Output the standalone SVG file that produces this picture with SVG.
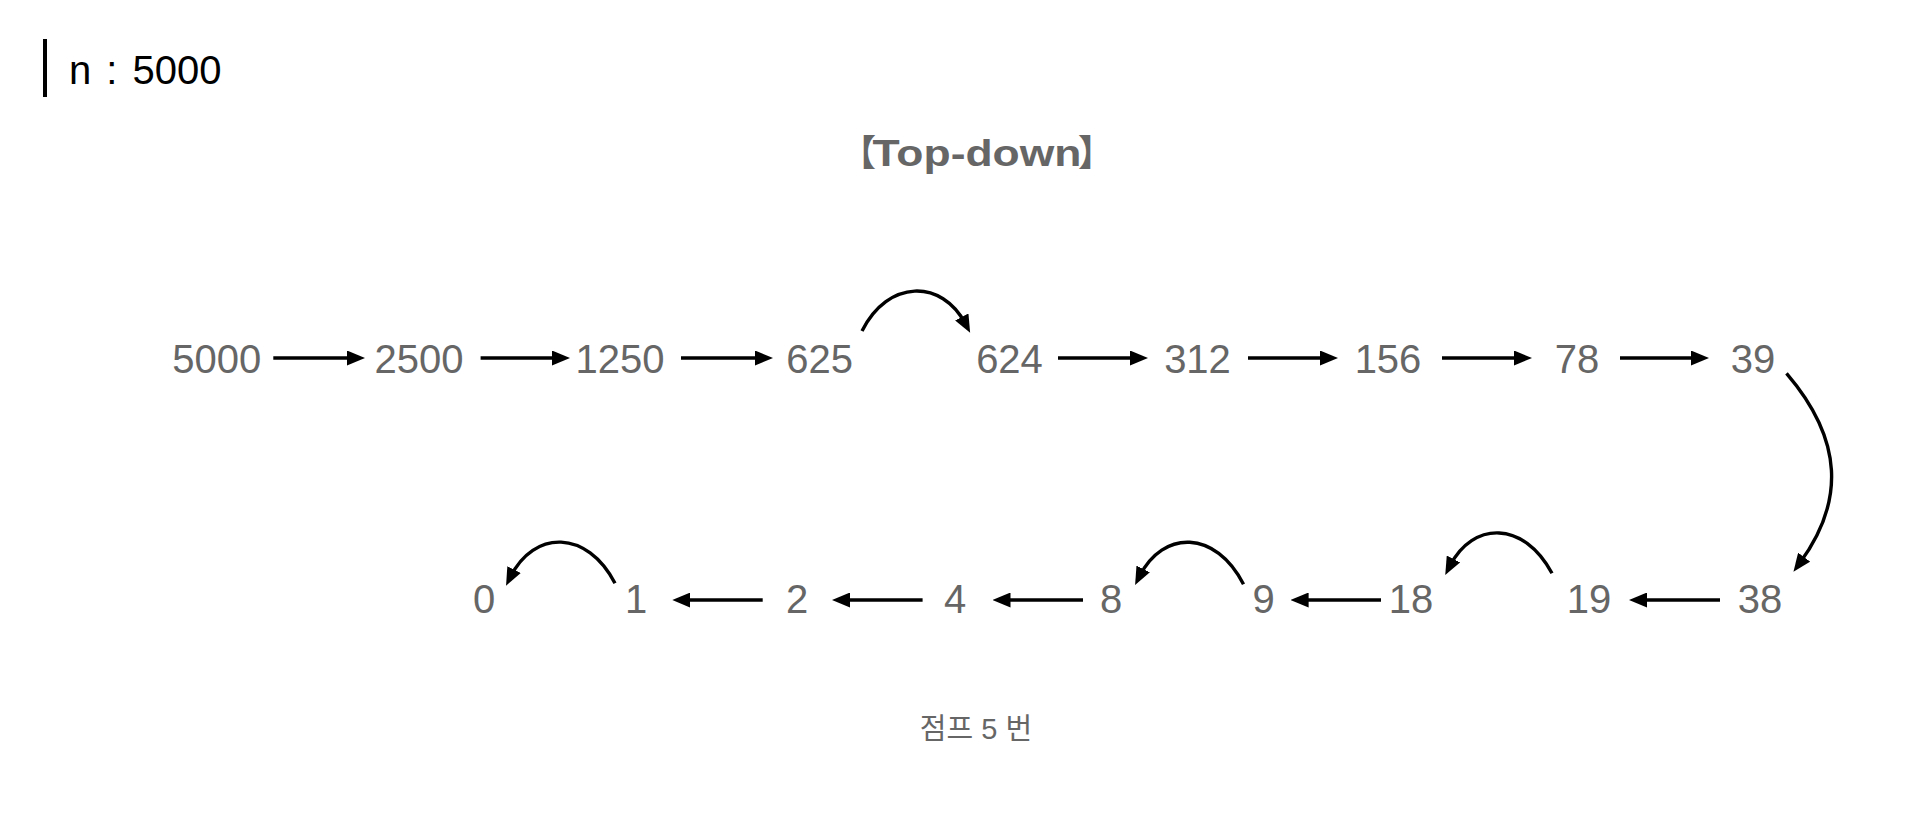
<svg xmlns="http://www.w3.org/2000/svg" width="1918" height="818" viewBox="0 0 1918 818">
<style>
.node{font-family:"Liberation Sans",Arial,sans-serif;font-size:40px;fill:#666666;text-anchor:middle}
.edge{fill:none;stroke:#000;stroke-width:3.4;marker-end:url(#ah)}
.title{font-family:"Liberation Sans","Noto Sans CJK KR",sans-serif;font-size:36px;font-weight:bold;fill:#666666}
.hdr{font-family:"Liberation Sans",Arial,sans-serif;font-size:40px;fill:#000;word-spacing:4px}
.lbl{font-family:"Liberation Sans","Noto Sans CJK KR",sans-serif;font-size:29px;fill:#666666;text-anchor:middle}
</style>
<defs>
<marker id="ah" markerWidth="18" markerHeight="15" refX="8" refY="7.5" orient="auto" markerUnits="userSpaceOnUse" viewBox="0 0 18 15">
<path d="M0,0 L18,7.5 L0,15 z" fill="#000"/>
</marker>
</defs>
<rect width="1918" height="818" fill="#fff"/>
<g id="header">
<rect x="43" y="39" width="4" height="58" fill="#000"/>
<text class="hdr" x="69" y="83.5">n : 5000</text>
</g>
<g id="title"><text class="title" y="166"><tspan x="876" text-anchor="end">【</tspan><tspan x="872.5" textLength="209" lengthAdjust="spacingAndGlyphs">Top-down</tspan><tspan x="1078">】</tspan></text></g>
<g id="n5000"><text class="node" x="216.7" y="373">5000</text></g>
<g id="n2500"><text class="node" x="419" y="373">2500</text></g>
<g id="n1250"><text class="node" x="620" y="373">1250</text></g>
<g id="n625"><text class="node" x="819.6" y="373">625</text></g>
<g id="n624"><text class="node" x="1009.5" y="373">624</text></g>
<g id="n312"><text class="node" x="1197.5" y="373">312</text></g>
<g id="n156"><text class="node" x="1388" y="373">156</text></g>
<g id="n78"><text class="node" x="1577" y="373">78</text></g>
<g id="n39"><text class="node" x="1753" y="373">39</text></g>
<g id="n38"><text class="node" x="1760" y="613">38</text></g>
<g id="n19"><text class="node" x="1589" y="613">19</text></g>
<g id="n18"><text class="node" x="1411" y="613">18</text></g>
<g id="n9"><text class="node" x="1263.5" y="613">9</text></g>
<g id="n8"><text class="node" x="1111" y="613">8</text></g>
<g id="n4"><text class="node" x="955" y="613">4</text></g>
<g id="n2"><text class="node" x="797" y="613">2</text></g>
<g id="n1"><text class="node" x="636" y="613">1</text></g>
<g id="n0"><text class="node" x="484" y="613">0</text></g>
<g id="connectors">
<path class="edge" d="M273.3,358 L355,358"/>
<path class="edge" d="M480.6,358 L560,358"/>
<path class="edge" d="M681,358 L763,358"/>
<path class="edge" d="M862,331 C888,279 942,279 965.5,324"/>
<path class="edge" d="M1058,358 L1138,358"/>
<path class="edge" d="M1248,358 L1328,358"/>
<path class="edge" d="M1442,358 L1522,358"/>
<path class="edge" d="M1620,358 L1699,358"/>
<path class="edge" d="M1786.5,373.3 C1843.4,439.8 1845.1,501.7 1799.4,563.6"/>
<path class="edge" d="M1720,600 L1639,600"/>
<path class="edge" d="M1552,573.3 C1524,520.7 1473,520.7 1449.8,566.1"/>
<path class="edge" d="M1381,600 L1300.6,600"/>
<path class="edge" d="M1243.5,584.3 C1215.5,529.6 1163,529.6 1139.6,576.1"/>
<path class="edge" d="M1083,600 L1002.5,600"/>
<path class="edge" d="M922.6,600 L842,600"/>
<path class="edge" d="M762.7,600 L682.3,600"/>
<path class="edge" d="M615,583.3 C587,529.5 534,529.5 510.5,576.8"/>
</g>
<g id="label"><text class="lbl" x="976" y="739">점프 5 번</text></g>
</svg>
